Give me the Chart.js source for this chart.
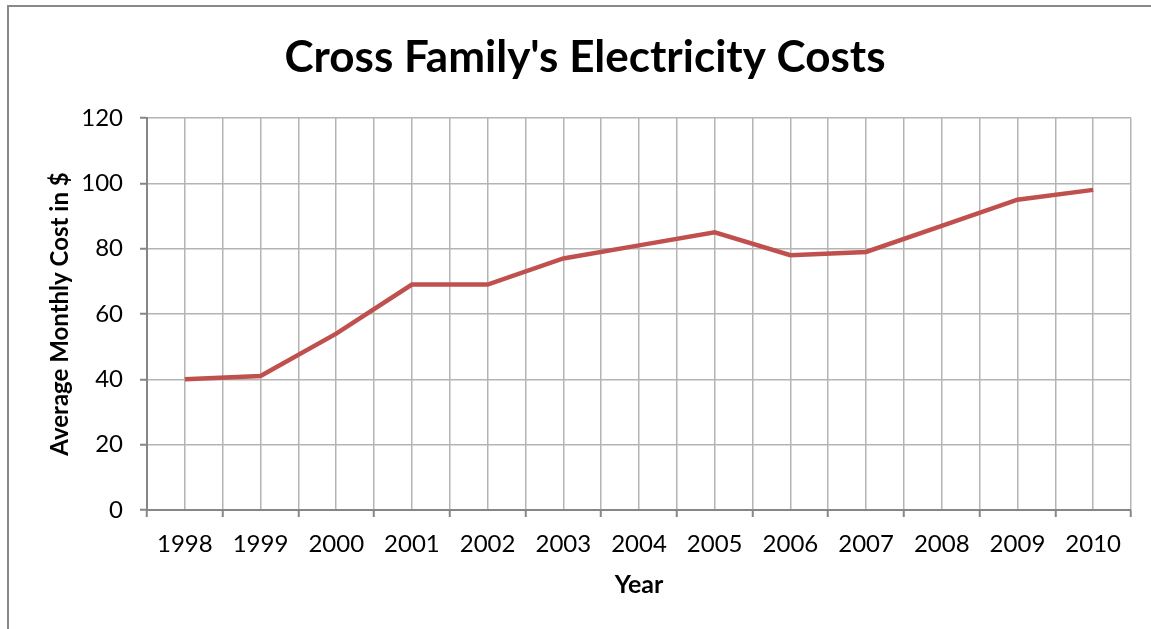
<!DOCTYPE html>
<html>
<head>
<meta charset="utf-8">
<script src="https://cdn.jsdelivr.net/npm/chart.js@4/dist/chart.umd.min.js"></script>
<style>
  html, body { margin: 0; padding: 0; background: #fff; }
  #wrap { position: relative; width: 1151px; height: 629px; overflow: hidden; }
  #frame { position: absolute; left: 7px; top: 5px; width: 1200px; height: 700px; border: 2px solid #898989; pointer-events: none; }
  canvas { position: absolute; left: 0; top: 0; }
</style>
</head>
<body>
<div id="wrap">
  <canvas id="c" width="1151" height="629"></canvas>
  <div id="frame"></div>
</div>
<script>
const years = [1998, 1999, 2000, 2001, 2002, 2003, 2004, 2005, 2006, 2007, 2008, 2009, 2010];
const costs = [40, 41, 54, 69, 69, 77, 81, 85, 78, 79, 87, 95, 98];
const yTicks = [0, 20, 40, 60, 80, 100, 120];
const titleText = "Cross Family's Electricity Costs";
const xTitle = "Year";
const yTitle = "Average Monthly Cost in $";

const FONT = "Lato, 'Open Sans', sans-serif";
const AXIS = '#868686';
const GRID = '#b4b4b4';

new Chart(document.getElementById('c'), {
  type: 'line',
  data: {
    datasets: [{
      data: years.map((y, i) => ({ x: y, y: costs[i] })),
      borderColor: '#c0504d',
      borderWidth: 4.5,
      pointRadius: 0,
      tension: 0,
      fill: false
    }]
  },
  options: {
    responsive: false,
    animation: false,
    layout: { padding: { left: 39, right: 20, top: 0, bottom: 0 } },
    plugins: {
      legend: { display: false },
      tooltip: { enabled: false },
      title: {
        display: true,
        text: titleText,
        color: '#000',
        font: { family: FONT, size: 44, weight: 'bold' },
        padding: { top: 31.6, bottom: 33.6 }
      }
    },
    scales: {
      x: {
        type: 'linear',
        min: years[0] - 0.5,
        max: years[years.length - 1] + 0.5,
        afterFit: s => { s.height = 119; },
        ticks: {
          stepSize: 0.5,
          autoSkip: false,
          maxRotation: 0,
          minRotation: 0,
          padding: 13,
          color: '#000',
          font: { family: FONT, size: 24 },
          callback: v => Number.isInteger(v) ? String(v) : ''
        },
        grid: {
          color: GRID,
          lineWidth: 1.5,
          drawTicks: true,
          tickLength: 7,
          tickWidth: 2,
          tickColor: ctx => (ctx.tick && Number.isInteger(ctx.tick.value)) ? 'rgba(0,0,0,0)' : AXIS
        },
        border: { display: true, color: AXIS, width: 2 },
        title: {
          display: true,
          text: xTitle,
          color: '#000',
          font: { family: FONT, size: 25, weight: 'bold' },
          padding: { top: 0, bottom: 29 }
        }
      },
      y: {
        min: 0,
        max: 120,
        afterFit: s => { s.width = 108; },
        afterBuildTicks: s => { s.ticks = yTicks.map(v => ({ value: v })); },
        ticks: {
          stepSize: 20,
          padding: 17,
          color: '#000',
          font: { family: FONT, size: 24 }
        },
        grid: {
          color: GRID,
          lineWidth: 1.5,
          drawTicks: true,
          tickLength: 7,
          tickWidth: 2,
          tickColor: AXIS
        },
        border: { display: true, color: AXIS, width: 2 },
        title: {
          display: true,
          text: yTitle,
          color: '#000',
          font: { family: FONT, size: 24, weight: 'bold' },
          padding: { top: 7, bottom: 0 }
        }
      }
    }
  }
});
</script>
</body>
</html>
